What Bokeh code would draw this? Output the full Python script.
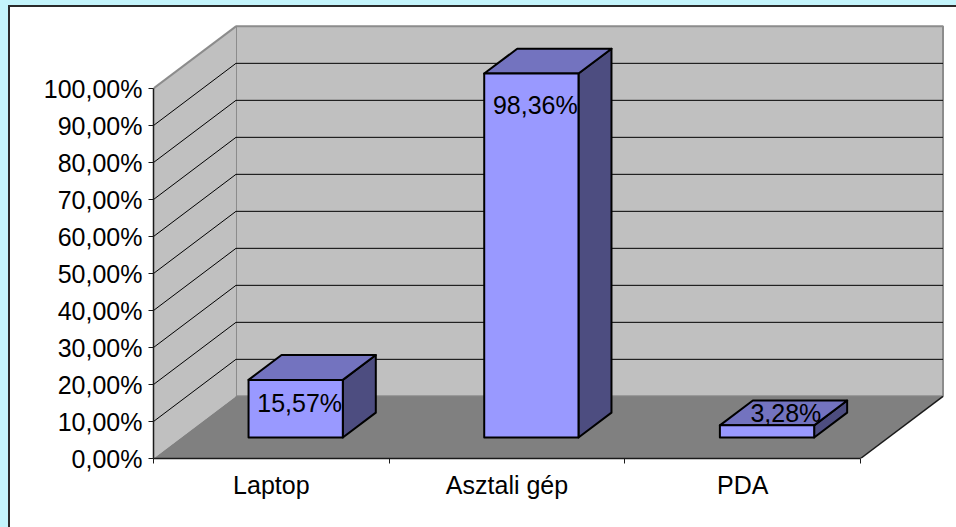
from bokeh.plotting import figure
from bokeh.models import ColumnDataSource, FixedTicker, CustomJSTickFormatter
from bokeh.core.properties import value
from bokeh.embed import file_html
from bokeh.resources import INLINE

# ---- data ----
categories = ["Laptop", "Asztali gép", "PDA"]
shares = [15.57, 98.36, 3.28]
y_ticks = [0, 10, 20, 30, 40, 50, 60, 70, 80, 90, 100]

# ---- 3D projection settings ----
DX, DY = 0.35, 16.8          # depth offset in (category units, percent units)
BAR_START, BAR_W = 0.285, 0.40
D0, D1 = 0.338, 0.738
FONT = "Liberation Sans"
FS = "25px"

n_cat = len(categories)
y_top = y_ticks[-1]


def P(c, v, d):
    return c + d * DX, v + d * DY


def poly(pts):
    xs, ys = zip(*[P(*p) for p in pts])
    return list(xs), list(ys)


p = figure(width=956, height=527, x_range=(0, 794 / 235.67), y_range=(0, 120),
           output_backend="svg", toolbar_location=None,
           min_border_left=153, min_border_right=9, min_border_top=14, min_border_bottom=69)
p.outline_line_color = None
p.grid.visible = False
p.background_fill_color = "white"
p.border_fill_color = None
p.styles = {"background-color": "white",
            "box-shadow": "inset 8px 5px 0 0 #C4F5FC, inset 10px 7px 0 0 #2b2b2b"}

# walls and floor
back = poly([(0, 0, 1), (n_cat, 0, 1), (n_cat, y_top, 1), (0, y_top, 1)])
side = poly([(0, 0, 0), (0, 0, 1), (0, y_top, 1), (0, y_top, 0)])
floor = poly([(0, 0, 0), (n_cat, 0, 0), (n_cat, 0, 1), (0, 0, 1)])

p.patches([back[0]], [back[1]], fill_color="#C0C0C0", line_color="#8C8C8C", line_width=2)
p.patches([side[0]], [side[1]], fill_color="#C0C0C0", line_color=None)
p.patches([floor[0]], [floor[1]], fill_color="#808080", line_color=None)

# floor right edge
fr = poly([(n_cat, 0, 0), (n_cat, 0, 1)])
p.line(fr[0], fr[1], line_color="#1a1a1a", line_width=1.5)

# side wall top edge
st = poly([(0, y_top, 0), (0, y_top, 1)])
p.line(st[0], st[1], line_color="#8C8C8C", line_width=2)

# gridlines
gxs, gys = [], []
for t in y_ticks[1:-1]:
    a = poly([(0, t, 1), (n_cat, t, 1)])
    b = poly([(0, t, 0), (0, t, 1)])
    gxs += [a[0], b[0]]
    gys += [a[1], b[1]]
p.multi_line(gxs, gys, line_color="black", line_width=1)

# bars
faces = {"side": [], "top": [], "front": []}
for i, v in enumerate(shares):
    x0 = i + BAR_START
    x1 = x0 + BAR_W
    faces["side"].append(poly([(x1, 0, D0), (x1, 0, D1), (x1, v, D1), (x1, v, D0)]))
    faces["top"].append(poly([(x0, v, D0), (x1, v, D0), (x1, v, D1), (x0, v, D1)]))
    faces["front"].append(poly([(x0, 0, D0), (x1, 0, D0), (x1, v, D0), (x0, v, D0)]))
face_colors = {"side": "#4D4D80", "top": "#7373BF", "front": "#9999FF"}
for k in ["side", "top", "front"]:
    src = ColumnDataSource(dict(xs=[f[0] for f in faces[k]], ys=[f[1] for f in faces[k]]))
    p.patches("xs", "ys", source=src, fill_color=face_colors[k], line_color="black",
              line_width=2, line_join="round")

# data labels
lx, ly, lt = [], [], []
for i, v in enumerate(shares):
    cx = i + BAR_START + BAR_W / 2
    if v * 3.7 > 40:
        x = P(cx + 0.017, 0, D0)[0]
        y = P(0, 0.97 * v, 0)[1]
    else:
        x, y = P(cx + 0.01, v, (D0 + D1) / 2)
    lx.append(x)
    ly.append(y)
    lt.append(f"{v:.2f}".replace(".", ",") + "%")
p.text(lx, ly, text=lt, text_font=value(FONT), text_font_size=FS, text_color="black",
       text_align="center", text_baseline="middle")

# y axis
ya = p.yaxis[0]
ya.ticker = FixedTicker(ticks=y_ticks)
ya.formatter = CustomJSTickFormatter(code="return tick.toFixed(2).replace('.', ',') + '%';")
ya.bounds = (0, y_top)
ya.major_tick_in = 0
ya.major_tick_out = 5
ya.minor_tick_line_color = None
ya.axis_line_color = "#1a1a1a"
ya.axis_line_width = 1.5
ya.major_tick_line_color = "#1a1a1a"
ya.major_label_standoff = 6
ya.major_label_text_font = FONT
ya.major_label_text_font_size = FS
ya.major_label_text_color = "black"

# x axis
xa = p.xaxis[0]
xa.ticker = FixedTicker(ticks=[i + 0.5 for i in range(n_cat)],
                        minor_ticks=[i for i in range(n_cat + 1)])
xa.formatter = CustomJSTickFormatter(args=dict(labels=categories),
                                     code="return labels[Math.floor(tick)];")
xa.bounds = (0, n_cat)
xa.major_tick_line_color = None
xa.major_tick_in = 0
xa.major_tick_out = 0
xa.minor_tick_in = 0
xa.minor_tick_out = 5
xa.minor_tick_line_color = "#1a1a1a"
xa.axis_line_color = "#1a1a1a"
xa.axis_line_width = 1.5
xa.major_label_standoff = 7
xa.major_label_text_font = FONT
xa.major_label_text_font_size = FS
xa.major_label_text_color = "black"

open("out.html", "w").write(file_html(p, INLINE))
